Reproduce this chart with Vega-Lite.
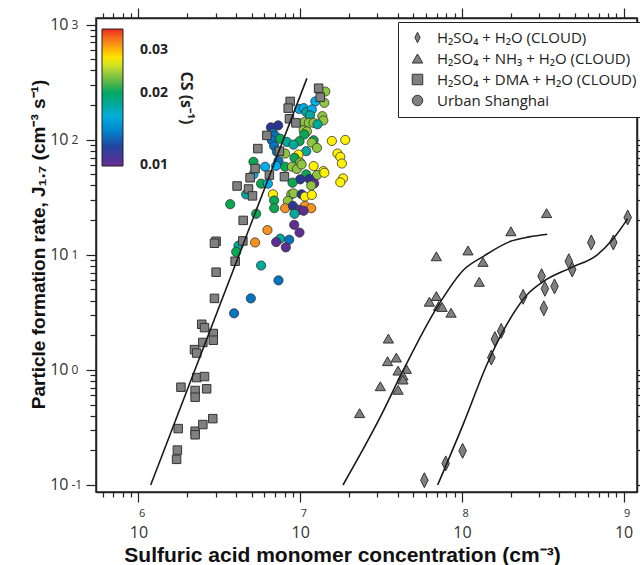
{
  "$schema": "https://vega.github.io/schema/vega-lite/v6.json",
  "autosize": "none",
  "width": 541,
  "height": 474,
  "padding": {"left": 96, "top": 18, "right": 3, "bottom": 73},
  "background": "white",
  "config": {
    "view": {"stroke": "#222", "strokeWidth": 1.5},
    "axis": {"domainColor": "#222", "domainWidth": 1.5, "tickColor": "#222", "tickWidth": 1.2, "grid": false, "labelOverlap": false, "labelFlush": false, "labelBound": false}
  },
  "datasets": {
    "urban": [
      {"x": 1.43e7, "y": 262, "cs": 0.0238, "type": "Urban Shanghai"},
      {"x": 1.41e7, "y": 209, "cs": 0.0238, "type": "Urban Shanghai"},
      {"x": 1.24e7, "y": 215, "cs": 0.0154, "type": "Urban Shanghai"},
      {"x": 9.86e6, "y": 185, "cs": 0.0154, "type": "Urban Shanghai"},
      {"x": 1.05e7, "y": 188, "cs": 0.0154, "type": "Urban Shanghai"},
      {"x": 1.09e7, "y": 174, "cs": 0.0178, "type": "Urban Shanghai"},
      {"x": 1.18e7, "y": 183, "cs": 0.0154, "type": "Urban Shanghai"},
      {"x": 1.15e7, "y": 163, "cs": 0.0178, "type": "Urban Shanghai"},
      {"x": 1.37e7, "y": 160, "cs": 0.0238, "type": "Urban Shanghai"},
      {"x": 1.39e7, "y": 147, "cs": 0.0238, "type": "Urban Shanghai"},
      {"x": 1.06e7, "y": 142, "cs": 0.0238, "type": "Urban Shanghai"},
      {"x": 1.13e7, "y": 140, "cs": 0.0238, "type": "Urban Shanghai"},
      {"x": 1.21e7, "y": 140, "cs": 0.0238, "type": "Urban Shanghai"},
      {"x": 1.28e7, "y": 136, "cs": 0.0178, "type": "Urban Shanghai"},
      {"x": 7.31e6, "y": 133, "cs": 0.0116, "type": "Urban Shanghai"},
      {"x": 6.59e6, "y": 128, "cs": 0.0116, "type": "Urban Shanghai"},
      {"x": 6.78e6, "y": 114, "cs": 0.0134, "type": "Urban Shanghai"},
      {"x": 1.05e7, "y": 121, "cs": 0.0238, "type": "Urban Shanghai"},
      {"x": 1.10e7, "y": 118, "cs": 0.0238, "type": "Urban Shanghai"},
      {"x": 1.06e7, "y": 111, "cs": 0.0206, "type": "Urban Shanghai"},
      {"x": 7.00e6, "y": 108, "cs": 0.0134, "type": "Urban Shanghai"},
      {"x": 6.68e6, "y": 98.9, "cs": 0.0134, "type": "Urban Shanghai"},
      {"x": 7.52e6, "y": 102, "cs": 0.0206, "type": "Urban Shanghai"},
      {"x": 8.27e6, "y": 95.6, "cs": 0.0178, "type": "Urban Shanghai"},
      {"x": 9.90e6, "y": 97.0, "cs": 0.0206, "type": "Urban Shanghai"},
      {"x": 9.09e6, "y": 90.6, "cs": 0.0178, "type": "Urban Shanghai"},
      {"x": 1.21e7, "y": 98.9, "cs": 0.0206, "type": "Urban Shanghai"},
      {"x": 1.18e7, "y": 94.3, "cs": 0.0238, "type": "Urban Shanghai"},
      {"x": 1.27e7, "y": 84.9, "cs": 0.0238, "type": "Urban Shanghai"},
      {"x": 1.57e7, "y": 97.5, "cs": 0.0275, "type": "Urban Shanghai"},
      {"x": 1.90e7, "y": 99.5, "cs": 0.0275, "type": "Urban Shanghai"},
      {"x": 6.90e6, "y": 88.3, "cs": 0.0134, "type": "Urban Shanghai"},
      {"x": 7.17e6, "y": 78.4, "cs": 0.0134, "type": "Urban Shanghai"},
      {"x": 8.07e6, "y": 75.8, "cs": 0.0238, "type": "Urban Shanghai"},
      {"x": 1.09e7, "y": 79.5, "cs": 0.0178, "type": "Urban Shanghai"},
      {"x": 9.76e6, "y": 74.3, "cs": 0.0275, "type": "Urban Shanghai"},
      {"x": 1.70e7, "y": 75.8, "cs": 0.0275, "type": "Urban Shanghai"},
      {"x": 1.77e7, "y": 71.0, "cs": 0.0275, "type": "Urban Shanghai"},
      {"x": 1.81e7, "y": 62.1, "cs": 0.0275, "type": "Urban Shanghai"},
      {"x": 5.14e6, "y": 64.2, "cs": 0.0206, "type": "Urban Shanghai"},
      {"x": 9.22e6, "y": 69.6, "cs": 0.0206, "type": "Urban Shanghai"},
      {"x": 1.00e7, "y": 63.4, "cs": 0.0238, "type": "Urban Shanghai"},
      {"x": 7.34e6, "y": 65.2, "cs": 0.0134, "type": "Urban Shanghai"},
      {"x": 8.07e6, "y": 58.2, "cs": 0.0206, "type": "Urban Shanghai"},
      {"x": 8.89e6, "y": 58.2, "cs": 0.0238, "type": "Urban Shanghai"},
      {"x": 1.21e7, "y": 59.0, "cs": 0.0275, "type": "Urban Shanghai"},
      {"x": 1.39e7, "y": 53.4, "cs": 0.0275, "type": "Urban Shanghai"},
      {"x": 6.07e6, "y": 58.2, "cs": 0.0154, "type": "Urban Shanghai"},
      {"x": 7.10e6, "y": 59.3, "cs": 0.0154, "type": "Urban Shanghai"},
      {"x": 9.54e6, "y": 55.6, "cs": 0.0238, "type": "Urban Shanghai"},
      {"x": 1.02e7, "y": 60.9, "cs": 0.0238, "type": "Urban Shanghai"},
      {"x": 5.14e6, "y": 49.9, "cs": 0.0154, "type": "Urban Shanghai"},
      {"x": 1.09e7, "y": 49.9, "cs": 0.0206, "type": "Urban Shanghai"},
      {"x": 1.27e7, "y": 49.3, "cs": 0.0238, "type": "Urban Shanghai"},
      {"x": 1.41e7, "y": 51.6, "cs": 0.0275, "type": "Urban Shanghai"},
      {"x": 1.00e7, "y": 45.2, "cs": 0.0116, "type": "Urban Shanghai"},
      {"x": 1.14e7, "y": 45.5, "cs": 0.0116, "type": "Urban Shanghai"},
      {"x": 1.22e7, "y": 41.7, "cs": 0.0102, "type": "Urban Shanghai"},
      {"x": 1.17e7, "y": 39.9, "cs": 0.0238, "type": "Urban Shanghai"},
      {"x": 1.84e7, "y": 46.1, "cs": 0.0275, "type": "Urban Shanghai"},
      {"x": 1.77e7, "y": 42.6, "cs": 0.0275, "type": "Urban Shanghai"},
      {"x": 4.63e6, "y": 33.5, "cs": 0.0178, "type": "Urban Shanghai"},
      {"x": 5.73e6, "y": 41.5, "cs": 0.0206, "type": "Urban Shanghai"},
      {"x": 6.31e6, "y": 41.5, "cs": 0.0154, "type": "Urban Shanghai"},
      {"x": 8.96e6, "y": 42.3, "cs": 0.0206, "type": "Urban Shanghai"},
      {"x": 6.78e6, "y": 33.5, "cs": 0.0275, "type": "Urban Shanghai"},
      {"x": 8.80e6, "y": 33.5, "cs": 0.0238, "type": "Urban Shanghai"},
      {"x": 9.09e6, "y": 34.2, "cs": 0.0238, "type": "Urban Shanghai"},
      {"x": 1.02e7, "y": 33.5, "cs": 0.0116, "type": "Urban Shanghai"},
      {"x": 1.07e7, "y": 32.0, "cs": 0.0275, "type": "Urban Shanghai"},
      {"x": 1.18e7, "y": 33.1, "cs": 0.0275, "type": "Urban Shanghai"},
      {"x": 6.90e6, "y": 29.6, "cs": 0.0206, "type": "Urban Shanghai"},
      {"x": 8.39e6, "y": 29.4, "cs": 0.0238, "type": "Urban Shanghai"},
      {"x": 3.69e6, "y": 27.5, "cs": 0.0206, "type": "Urban Shanghai"},
      {"x": 6.90e6, "y": 25.4, "cs": 0.0206, "type": "Urban Shanghai"},
      {"x": 8.07e6, "y": 25.4, "cs": 0.0318, "type": "Urban Shanghai"},
      {"x": 9.01e6, "y": 26.6, "cs": 0.0116, "type": "Urban Shanghai"},
      {"x": 1.07e7, "y": 26.6, "cs": 0.0318, "type": "Urban Shanghai"},
      {"x": 1.17e7, "y": 25.4, "cs": 0.0318, "type": "Urban Shanghai"},
      {"x": 9.86e6, "y": 24.6, "cs": 0.0102, "type": "Urban Shanghai"},
      {"x": 1.05e7, "y": 24.1, "cs": 0.0102, "type": "Urban Shanghai"},
      {"x": 9.22e6, "y": 22.7, "cs": 0.0178, "type": "Urban Shanghai"},
      {"x": 5.34e6, "y": 22.7, "cs": 0.0206, "type": "Urban Shanghai"},
      {"x": 9.18e6, "y": 18.2, "cs": 0.0102, "type": "Urban Shanghai"},
      {"x": 6.27e6, "y": 16.4, "cs": 0.0318, "type": "Urban Shanghai"},
      {"x": 9.90e6, "y": 15.6, "cs": 0.0102, "type": "Urban Shanghai"},
      {"x": 7.52e6, "y": 13.8, "cs": 0.0178, "type": "Urban Shanghai"},
      {"x": 7.10e6, "y": 12.9, "cs": 0.0102, "type": "Urban Shanghai"},
      {"x": 8.55e6, "y": 13.5, "cs": 0.0134, "type": "Urban Shanghai"},
      {"x": 8.15e6, "y": 11.6, "cs": 0.0102, "type": "Urban Shanghai"},
      {"x": 4.15e6, "y": 12.0, "cs": 0.0178, "type": "Urban Shanghai"},
      {"x": 4.02e6, "y": 10.6, "cs": 0.0206, "type": "Urban Shanghai"},
      {"x": 5.26e6, "y": 12.8, "cs": 0.0318, "type": "Urban Shanghai"},
      {"x": 5.73e6, "y": 8.07, "cs": 0.0178, "type": "Urban Shanghai"},
      {"x": 7.34e6, "y": 5.99, "cs": 0.0134, "type": "Urban Shanghai"},
      {"x": 4.95e6, "y": 4.18, "cs": 0.0134, "type": "Urban Shanghai"},
      {"x": 3.90e6, "y": 3.10, "cs": 0.0134, "type": "Urban Shanghai"}
    ],
    "cloud": [
      {"x": 1.30e7, "y": 280, "type": "H₂SO₄ + DMA + H₂O (CLOUD)"},
      {"x": 1.33e7, "y": 234, "type": "H₂SO₄ + DMA + H₂O (CLOUD)"},
      {"x": 8.67e6, "y": 215, "type": "H₂SO₄ + DMA + H₂O (CLOUD)"},
      {"x": 8.43e6, "y": 188, "type": "H₂SO₄ + DMA + H₂O (CLOUD)"},
      {"x": 8.58e6, "y": 152, "type": "H₂SO₄ + DMA + H₂O (CLOUD)"},
      {"x": 9.41e6, "y": 140, "type": "H₂SO₄ + DMA + H₂O (CLOUD)"},
      {"x": 6.22e6, "y": 109, "type": "H₂SO₄ + DMA + H₂O (CLOUD)"},
      {"x": 5.47e6, "y": 83.7, "type": "H₂SO₄ + DMA + H₂O (CLOUD)"},
      {"x": 7.44e6, "y": 79.5, "type": "H₂SO₄ + DMA + H₂O (CLOUD)"},
      {"x": 5.26e6, "y": 56.2, "type": "H₂SO₄ + DMA + H₂O (CLOUD)"},
      {"x": 4.90e6, "y": 46.7, "type": "H₂SO₄ + DMA + H₂O (CLOUD)"},
      {"x": 6.45e6, "y": 49.3, "type": "H₂SO₄ + DMA + H₂O (CLOUD)"},
      {"x": 7.99e6, "y": 47.7, "type": "H₂SO₄ + DMA + H₂O (CLOUD)"},
      {"x": 4.07e6, "y": 39.6, "type": "H₂SO₄ + DMA + H₂O (CLOUD)"},
      {"x": 4.79e6, "y": 37.3, "type": "H₂SO₄ + DMA + H₂O (CLOUD)"},
      {"x": 5.07e6, "y": 32.5, "type": "H₂SO₄ + DMA + H₂O (CLOUD)"},
      {"x": 4.44e6, "y": 19.9, "type": "H₂SO₄ + DMA + H₂O (CLOUD)"},
      {"x": 3.02e6, "y": 13.1, "type": "H₂SO₄ + DMA + H₂O (CLOUD)"},
      {"x": 2.95e6, "y": 12.6, "type": "H₂SO₄ + DMA + H₂O (CLOUD)"},
      {"x": 4.42e6, "y": 13.2, "type": "H₂SO₄ + DMA + H₂O (CLOUD)"},
      {"x": 3.96e6, "y": 8.79, "type": "H₂SO₄ + DMA + H₂O (CLOUD)"},
      {"x": 3.02e6, "y": 7.06, "type": "H₂SO₄ + DMA + H₂O (CLOUD)"},
      {"x": 2.95e6, "y": 4.18, "type": "H₂SO₄ + DMA + H₂O (CLOUD)"},
      {"x": 2.46e6, "y": 2.49, "type": "H₂SO₄ + DMA + H₂O (CLOUD)"},
      {"x": 2.56e6, "y": 2.33, "type": "H₂SO₄ + DMA + H₂O (CLOUD)"},
      {"x": 2.90e6, "y": 2.07, "type": "H₂SO₄ + DMA + H₂O (CLOUD)"},
      {"x": 2.90e6, "y": 1.81, "type": "H₂SO₄ + DMA + H₂O (CLOUD)"},
      {"x": 2.50e6, "y": 1.73, "type": "H₂SO₄ + DMA + H₂O (CLOUD)"},
      {"x": 2.22e6, "y": 1.50, "type": "H₂SO₄ + DMA + H₂O (CLOUD)"},
      {"x": 2.29e6, "y": 1.40, "type": "H₂SO₄ + DMA + H₂O (CLOUD)"},
      {"x": 2.29e6, "y": 0.857, "type": "H₂SO₄ + DMA + H₂O (CLOUD)"},
      {"x": 2.56e6, "y": 0.875, "type": "H₂SO₄ + DMA + H₂O (CLOUD)"},
      {"x": 1.83e6, "y": 0.707, "type": "H₂SO₄ + DMA + H₂O (CLOUD)"},
      {"x": 2.24e6, "y": 0.662, "type": "H₂SO₄ + DMA + H₂O (CLOUD)"},
      {"x": 2.64e6, "y": 0.685, "type": "H₂SO₄ + DMA + H₂O (CLOUD)"},
      {"x": 2.24e6, "y": 0.579, "type": "H₂SO₄ + DMA + H₂O (CLOUD)"},
      {"x": 2.88e6, "y": 0.377, "type": "H₂SO₄ + DMA + H₂O (CLOUD)"},
      {"x": 1.76e6, "y": 0.309, "type": "H₂SO₄ + DMA + H₂O (CLOUD)"},
      {"x": 2.24e6, "y": 0.293, "type": "H₂SO₄ + DMA + H₂O (CLOUD)"},
      {"x": 2.24e6, "y": 0.273, "type": "H₂SO₄ + DMA + H₂O (CLOUD)"},
      {"x": 2.50e6, "y": 0.335, "type": "H₂SO₄ + DMA + H₂O (CLOUD)"},
      {"x": 1.74e6, "y": 0.201, "type": "H₂SO₄ + DMA + H₂O (CLOUD)"},
      {"x": 1.72e6, "y": 0.167, "type": "H₂SO₄ + DMA + H₂O (CLOUD)"},
      {"x": 3.34e8, "y": 23.0, "type": "H₂SO₄ + NH₃ + H₂O (CLOUD)"},
      {"x": 2.01e8, "y": 16.0, "type": "H₂SO₄ + NH₃ + H₂O (CLOUD)"},
      {"x": 1.09e8, "y": 10.9, "type": "H₂SO₄ + NH₃ + H₂O (CLOUD)"},
      {"x": 6.95e7, "y": 9.7, "type": "H₂SO₄ + NH₃ + H₂O (CLOUD)"},
      {"x": 1.35e8, "y": 8.67, "type": "H₂SO₄ + NH₃ + H₂O (CLOUD)"},
      {"x": 1.28e8, "y": 5.82, "type": "H₂SO₄ + NH₃ + H₂O (CLOUD)"},
      {"x": 6.95e7, "y": 4.38, "type": "H₂SO₄ + NH₃ + H₂O (CLOUD)"},
      {"x": 6.29e7, "y": 3.91, "type": "H₂SO₄ + NH₃ + H₂O (CLOUD)"},
      {"x": 7.18e7, "y": 3.59, "type": "H₂SO₄ + NH₃ + H₂O (CLOUD)"},
      {"x": 7.54e7, "y": 3.52, "type": "H₂SO₄ + NH₃ + H₂O (CLOUD)"},
      {"x": 8.57e7, "y": 3.14, "type": "H₂SO₄ + NH₃ + H₂O (CLOUD)"},
      {"x": 3.51e7, "y": 1.87, "type": "H₂SO₄ + NH₃ + H₂O (CLOUD)"},
      {"x": 3.93e7, "y": 1.28, "type": "H₂SO₄ + NH₃ + H₂O (CLOUD)"},
      {"x": 3.47e7, "y": 1.19, "type": "H₂SO₄ + NH₃ + H₂O (CLOUD)"},
      {"x": 4.03e7, "y": 0.985, "type": "H₂SO₄ + NH₃ + H₂O (CLOUD)"},
      {"x": 4.53e7, "y": 1.02, "type": "H₂SO₄ + NH₃ + H₂O (CLOUD)"},
      {"x": 4.32e7, "y": 0.892, "type": "H₂SO₄ + NH₃ + H₂O (CLOUD)"},
      {"x": 4.32e7, "y": 0.824, "type": "H₂SO₄ + NH₃ + H₂O (CLOUD)"},
      {"x": 3.13e7, "y": 0.721, "type": "H₂SO₄ + NH₃ + H₂O (CLOUD)"},
      {"x": 4.03e7, "y": 0.671, "type": "H₂SO₄ + NH₃ + H₂O (CLOUD)"},
      {"x": 2.33e7, "y": 0.421, "type": "H₂SO₄ + NH₃ + H₂O (CLOUD)"},
      {"x": 1.06e9, "y": 21.1, "type": "H₂SO₄ + H₂O (CLOUD)"},
      {"x": 6.31e8, "y": 12.8, "type": "H₂SO₄ + H₂O (CLOUD)"},
      {"x": 8.64e8, "y": 12.8, "type": "H₂SO₄ + H₂O (CLOUD)"},
      {"x": 4.58e8, "y": 8.79, "type": "H₂SO₄ + H₂O (CLOUD)"},
      {"x": 4.81e8, "y": 7.45, "type": "H₂SO₄ + H₂O (CLOUD)"},
      {"x": 3.11e8, "y": 6.52, "type": "H₂SO₄ + H₂O (CLOUD)"},
      {"x": 3.26e8, "y": 5.07, "type": "H₂SO₄ + H₂O (CLOUD)"},
      {"x": 3.74e8, "y": 5.31, "type": "H₂SO₄ + H₂O (CLOUD)"},
      {"x": 2.39e8, "y": 4.32, "type": "H₂SO₄ + H₂O (CLOUD)"},
      {"x": 3.21e8, "y": 3.43, "type": "H₂SO₄ + H₂O (CLOUD)"},
      {"x": 1.75e8, "y": 2.18, "type": "H₂SO₄ + H₂O (CLOUD)"},
      {"x": 1.60e8, "y": 1.85, "type": "H₂SO₄ + H₂O (CLOUD)"},
      {"x": 1.52e8, "y": 1.28, "type": "H₂SO₄ + H₂O (CLOUD)"},
      {"x": 1.01e8, "y": 0.198, "type": "H₂SO₄ + H₂O (CLOUD)"},
      {"x": 7.94e7, "y": 0.154, "type": "H₂SO₄ + H₂O (CLOUD)"},
      {"x": 5.86e7, "y": 0.110, "type": "H₂SO₄ + H₂O (CLOUD)"}
    ],
    "fits": [
      {"x": 1.19e6, "y": 0.1, "curve": "DMA"},
      {"x": 1.10e7, "y": 341, "curve": "DMA"},
      {"x": 1.84e7, "y": 0.1, "curve": "NH3"},
      {"x": 3.13e7, "y": 0.39, "curve": "NH3"},
      {"x": 4.27e7, "y": 0.95, "curve": "NH3"},
      {"x": 7.0e7, "y": 3.47, "curve": "NH3"},
      {"x": 1.03e8, "y": 7.45, "curve": "NH3"},
      {"x": 1.36e8, "y": 9.7, "curve": "NH3"},
      {"x": 2.0e8, "y": 13.1, "curve": "NH3"},
      {"x": 2.6e8, "y": 14.3, "curve": "NH3"},
      {"x": 3.37e8, "y": 15.1, "curve": "NH3"},
      {"x": 7.08e7, "y": 0.1, "curve": "H2O"},
      {"x": 1.03e8, "y": 0.35, "curve": "H2O"},
      {"x": 1.43e8, "y": 1.12, "curve": "H2O"},
      {"x": 1.9e8, "y": 2.5, "curve": "H2O"},
      {"x": 2.53e8, "y": 4.5, "curve": "H2O"},
      {"x": 3.21e8, "y": 5.9, "curve": "H2O"},
      {"x": 4.7e8, "y": 7.7, "curve": "H2O"},
      {"x": 6.87e8, "y": 10, "curve": "H2O"},
      {"x": 8.7e8, "y": 14, "curve": "H2O"},
      {"x": 1.06e9, "y": 20.6, "curve": "H2O"}
    ]
  },
  "resolve": {"axis": {"x": "independent", "y": "independent"}},
  "layer": [
    {
      "data": {"name": "urban"},
      "mark": {"type": "point", "filled": true, "stroke": "#333", "strokeWidth": 0.8, "opacity": 1, "size": 85},
      "encoding": {
        "x": {"field": "x", "type": "quantitative",
          "scale": {"type": "log", "domain": [546000, 1210000000], "nice": false},
          "axis": {"orient": "bottom", "values": [1000000, 10000000, 100000000, 1000000000],
            "labelExpr": "'10'", "tickSize": 10,
            "labelFont": "Open Sans", "labelFontSize": 16, "labelColor": "#333", "labelPadding": 22, "labelDx": -3,
            "title": "Sulfuric acid monomer concentration (cm⁻³)", "titleFont": "Liberation Sans", "titleFontSize": 21,
            "titleFontWeight": "bold", "titleColor": "#111", "titleX": 246, "titleY": 69, "titleBaseline": "alphabetic", "titleAlign": "center"}},
        "y": {"field": "y", "type": "quantitative",
          "scale": {"type": "log", "domain": [0.0869, 1141], "nice": false},
          "axis": {"orient": "left", "values": [0.1, 1, 10, 100, 1000],
            "labelExpr": "'10'", "tickSize": 10,
            "labelFont": "Open Sans", "labelFontSize": 16, "labelColor": "#333", "labelPadding": 18, "labelBaseline": "middle", "labelDy": 5,
            "title": "Particle formation rate, J₁.₇ (cm⁻³ s⁻¹)", "titleFont": "Liberation Sans", "titleFontSize": 19,
            "titleFontWeight": "bold", "titleColor": "#111", "titleX": -58, "titleY": 226, "titleAngle": -90, "titleBaseline": "middle", "titleAlign": "center"}},
        "fill": {"field": "cs", "type": "quantitative",
          "scale": {"type": "log", "domain": [0.00995, 0.0367], "range": ["#662d91", "#2e3192", "#0072bc", "#00aeef", "#00a99d", "#00a651", "#8dc63f", "#fff200", "#f7941d", "#ed1c24"]},
          "legend": {"orient": "none", "legendX": 6, "legendY": 11, "direction": "vertical",
            "gradientLength": 137, "gradientThickness": 21, "gradientStrokeColor": "#222", "gradientStrokeWidth": 1,
            "values": [0.01, 0.02, 0.03], "format": ".2f",
            "labelFont": "Open Sans", "labelFontSize": 14, "labelFontWeight": "bold", "labelColor": "#222", "labelOffset": 17, "labelOverlap": false,
            "title": "CS (s⁻¹)", "titleOrient": "right", "titleAnchor": "middle", "titleFont": "Open Sans", "titleFontSize": 16, "titleFontWeight": "bold", "titleColor": "#222", "titlePadding": 10, "padding": 0}},
        "shape": {"field": "type", "type": "nominal",
          "scale": {"domain": ["H₂SO₄ + H₂O (CLOUD)", "H₂SO₄ + NH₃ + H₂O (CLOUD)", "H₂SO₄ + DMA + H₂O (CLOUD)", "Urban Shanghai"],
                    "range": ["M0,-1L0.5,0L0,1L-0.5,0Z", "triangle-up", "square", "circle"]},
          "legend": {"orient": "none", "legendX": 302, "legendY": 4, "title": null, "padding": 8,
            "strokeColor": "#222", "fillColor": "white", "labelFont": "Open Sans", "labelFontSize": 15, "labelColor": "#222", "labelLimit": 400,
            "labelOffset": 12, "symbolOffset": 4, "rowPadding": 5, "symbolSize": 110, "symbolFillColor": "#808080", "symbolStrokeColor": "#333", "symbolStrokeWidth": 1,
            "encode": {"symbols": {"update": {"fill": {"value": "#808080"}, "stroke": {"value": "#333"}, "strokeWidth": {"value": 1}, "opacity": {"value": 1},
              "size": {"signal": "datum.value === 'H₂SO₄ + H₂O (CLOUD)' ? 220 : 110"}}}}}}
      }
    },
    {
      "data": {"name": "cloud"},
      "transform": [{"filter": "datum.type === 'H₂SO₄ + H₂O (CLOUD)'"}],
      "mark": {"type": "point", "filled": true, "fill": "#808080", "stroke": "#333", "strokeWidth": 1, "opacity": 1, "size": 225},
      "encoding": {
        "x": {"field": "x", "type": "quantitative",
          "scale": {"type": "log", "domain": [546000, 1210000000], "nice": false},
          "axis": {"orient": "bottom", "values": [1000000, 10000000, 100000000, 1000000000],
            "labelExpr": "'' + round(log(datum.value)/LN10)", "ticks": false, "domain": false,
            "labelFont": "Open Sans", "labelFontSize": 11, "labelColor": "#333", "labelAlign": "left", "labelDx": 10, "labelPadding": 15, "title": null}},
        "y": {"field": "y", "type": "quantitative",
          "scale": {"type": "log", "domain": [0.0869, 1141], "nice": false},
          "axis": {"orient": "left", "values": [0.1, 1, 10, 100, 1000],
            "labelExpr": "'' + round(log(datum.value)/LN10)", "ticks": false, "domain": false,
            "labelFont": "Open Sans", "labelFontSize": 12, "labelColor": "#333", "labelAlign": "left", "labelPadding": 25,
            "labelBaseline": "middle", "labelDy": -5, "title": null}},
        "shape": {"field": "type", "type": "nominal",
          "scale": {"domain": ["H₂SO₄ + H₂O (CLOUD)", "H₂SO₄ + NH₃ + H₂O (CLOUD)", "H₂SO₄ + DMA + H₂O (CLOUD)", "Urban Shanghai"],
                    "range": ["M0,-1L0.5,0L0,1L-0.5,0Z", "triangle-up", "square", "circle"]}}
      }
    },
    {
      "data": {"name": "cloud"},
      "transform": [{"filter": "datum.type === 'H₂SO₄ + NH₃ + H₂O (CLOUD)'"}],
      "mark": {"type": "point", "filled": true, "fill": "#808080", "stroke": "#333", "strokeWidth": 1, "opacity": 1, "size": 105},
      "encoding": {
        "x": {"field": "x", "type": "quantitative",
          "scale": {"type": "log", "domain": [546000, 1210000000], "nice": false},
          "axis": {"orient": "bottom",
            "values": [600000,700000,800000,900000,2000000,3000000,4000000,5000000,6000000,7000000,8000000,9000000,20000000,30000000,40000000,50000000,60000000,70000000,80000000,90000000,200000000,300000000,400000000,500000000,600000000,700000000,800000000,900000000],
            "labels": false, "domain": false, "tickSize": 5, "title": null}},
        "y": {"field": "y", "type": "quantitative",
          "scale": {"type": "log", "domain": [0.0869, 1141], "nice": false},
          "axis": {"orient": "left",
            "values": [0.2,0.3,0.4,0.5,0.6,0.7,0.8,0.9,2,3,4,5,6,7,8,9,20,30,40,50,60,70,80,90,200,300,400,500,600,700,800,900],
            "labels": false, "domain": false, "tickSize": 6, "title": null}},
        "shape": {"field": "type", "type": "nominal",
          "scale": {"domain": ["H₂SO₄ + H₂O (CLOUD)", "H₂SO₄ + NH₃ + H₂O (CLOUD)", "H₂SO₄ + DMA + H₂O (CLOUD)", "Urban Shanghai"],
                    "range": ["M0,-1L0.5,0L0,1L-0.5,0Z", "triangle-up", "square", "circle"]}}
      }
    },
    {
      "data": {"name": "cloud"},
      "transform": [{"filter": "datum.type === 'H₂SO₄ + DMA + H₂O (CLOUD)'"}],
      "mark": {"type": "point", "filled": true, "fill": "#808080", "stroke": "#333", "strokeWidth": 1, "opacity": 1, "size": 72},
      "encoding": {
        "x": {"field": "x", "type": "quantitative",
          "scale": {"type": "log", "domain": [546000, 1210000000], "nice": false},
          "axis": {"orient": "top", "values": [1000000, 10000000, 100000000, 1000000000],
            "labels": false, "tickSize": 10, "title": null}},
        "y": {"field": "y", "type": "quantitative",
          "scale": {"type": "log", "domain": [0.0869, 1141], "nice": false},
          "axis": {"orient": "right", "values": [0.1, 1, 10, 100, 1000],
            "labels": false, "tickSize": 10, "title": null}},
        "shape": {"field": "type", "type": "nominal",
          "scale": {"domain": ["H₂SO₄ + H₂O (CLOUD)", "H₂SO₄ + NH₃ + H₂O (CLOUD)", "H₂SO₄ + DMA + H₂O (CLOUD)", "Urban Shanghai"],
                    "range": ["M0,-1L0.5,0L0,1L-0.5,0Z", "triangle-up", "square", "circle"]}}
      }
    },
    {
      "data": {"name": "fits"},
      "mark": {"type": "line", "color": "#1a1a1a", "strokeWidth": 1.6, "interpolate": "monotone"},
      "encoding": {
        "x": {"field": "x", "type": "quantitative",
          "scale": {"type": "log", "domain": [546000, 1210000000], "nice": false},
          "axis": {"orient": "top",
            "values": [600000,700000,800000,900000,2000000,3000000,4000000,5000000,6000000,7000000,8000000,9000000,20000000,30000000,40000000,50000000,60000000,70000000,80000000,90000000,200000000,300000000,400000000,500000000,600000000,700000000,800000000,900000000],
            "labels": false, "domain": false, "tickSize": 5, "title": null}},
        "y": {"field": "y", "type": "quantitative",
          "scale": {"type": "log", "domain": [0.0869, 1141], "nice": false},
          "axis": {"orient": "right",
            "values": [0.2,0.3,0.4,0.5,0.6,0.7,0.8,0.9,2,3,4,5,6,7,8,9,20,30,40,50,60,70,80,90,200,300,400,500,600,700,800,900],
            "labels": false, "domain": false, "tickSize": 6, "title": null}},
        "detail": {"field": "curve", "type": "nominal"}
      }
    }
  ]
}
